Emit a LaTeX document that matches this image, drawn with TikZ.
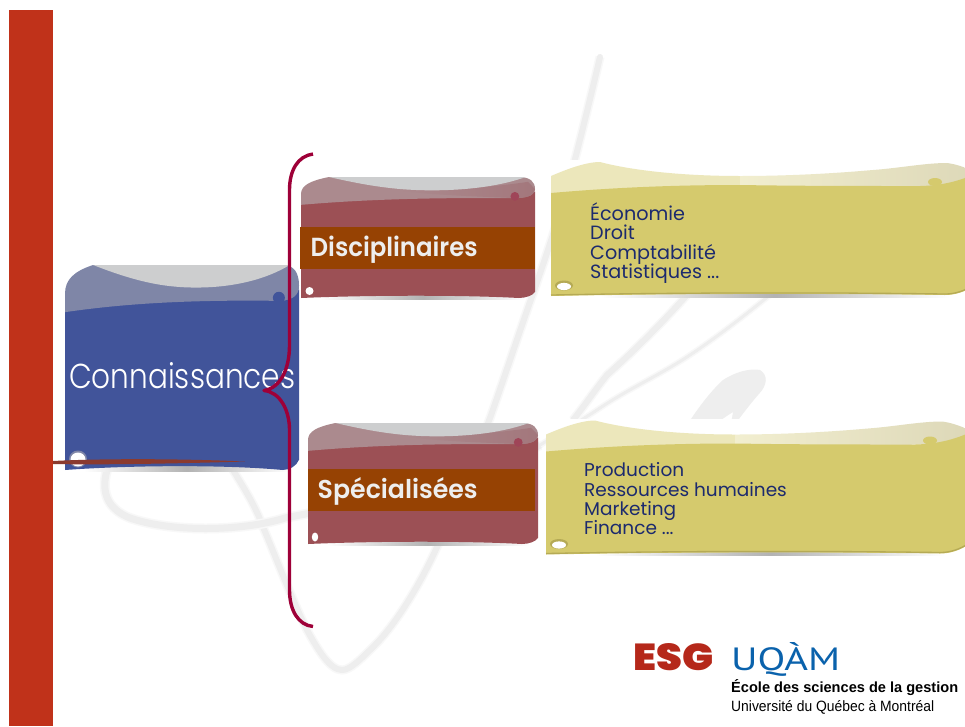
\documentclass[tikz,border=0pt]{standalone}
\usepackage{graphicx}
\usepackage{fontspec}
\setmainfont{Poppins}
\newfontfamily\logofont{Liberation Sans}
\newfontfamily\uqamfont{PT Sans}
\newfontfamily\esgfont{Poppins Black}
\newfontfamily\semifont{Poppins SemiBold}
\newfontfamily\lightfont{Poppins Light}
\AtBeginDocument{\lineskiplimit=-30pt\relax\normallineskiplimit=-30pt\relax}
\definecolor{sidebar}{HTML}{C0321A}
\definecolor{wm}{HTML}{EEEEEE}
\definecolor{wmsoft}{HTML}{F8F8F8}
\definecolor{bluebody}{HTML}{41549A}
\definecolor{blueband}{HTML}{7F86A7}
\definecolor{lensgrey}{HTML}{CDCECF}
\definecolor{marbody}{HTML}{9C5055}
\definecolor{marband}{HTML}{AB8A8E}
\definecolor{marsmear}{HTML}{A3777C}
\definecolor{mardot}{HTML}{9F4558}
\definecolor{barorange}{HTML}{964203}
\definecolor{yelbody}{HTML}{D5CA6D}
\definecolor{yelband}{HTML}{ECE7BB}
\definecolor{yelsmear}{HTML}{DDD8B8}
\definecolor{yeledge}{HTML}{B5AA55}
\definecolor{navytext}{HTML}{1C2A6E}
\definecolor{bracecol}{HTML}{9E0038}
\definecolor{slash}{HTML}{8B3A2E}
\definecolor{esgred}{HTML}{B5281A}
\definecolor{uqamblue}{HTML}{0A62AC}
\definecolor{offwhite}{HTML}{EEEEEE}
\tikzset{
  wmstroke/.style={draw=wm,line cap=round,line join=round,line width=#1,preaction={draw=wmsoft,line width=#1+3pt}},
  barlabel/.style={anchor=base west,inner sep=0pt,text=offwhite,font=\semifont},
  notetext/.style={anchor=north west,inner sep=0pt,text=navytext,align=left},
  logotext/.style={anchor=base west,inner sep=0pt,text=black,font=\logofont},
  shadowbar/.style={left color=white,right color=white,middle color=gray!60},
}
% card: x y w h body band smear dot
\newcommand{\cardshape}[8]{%
  \shade[shadowbar] (#1+#3*.08,#2+#4-4) rectangle (#1+#3*.96,#2+#4+1.5);
  \begin{scope}[shift={(#1,#2)},xscale=#3/100,yscale=#4/100]
    \fill[#5] (0,20) -- (0,100) .. controls (30,97.5) and (70,97.5) .. (93,100) .. controls (96,100) and (99,98) .. (100,95) -- (100,12) -- cycle;
    \fill[#6] (0,23) -- (0,14) .. controls (0,7) and (4,3) .. (12,0) -- (93,0) .. controls (98,0) and (100,4) .. (100,10) .. controls (100,14) and (98,17) .. (92,17.5) .. controls (60,17) and (30,18) .. cycle;
    \shade[left color=#6,right color=#7] (42,11) .. controls (60,11) and (80,9) .. (97,4) -- (100,10) .. controls (100,14) and (98,17) .. (92,17.5) .. controls (75,16) and (55,15) .. (42,11) -- cycle;
    \fill[lensgrey] (12,0) .. controls (30,8) and (42,11) .. (56,11) .. controls (72,11) and (86,7) .. (96,0) -- cycle;
    \coordinate (cdot) at (91.4,16);
    \coordinate (chole) at (5.4,94);
  \end{scope}
  \fill[#8] (cdot) circle (4.4);
}
% note: x y shift
\newcommand{\noteshape}[2]{%
  \begin{scope}[shift={(#1,#2)}]
    \fill[white] (551,160) rectangle (975,200);
    \shade[shadowbar] (600,290) rectangle (950,297);
    \fill[yelband] (551,194) -- (551,176) .. controls (565,170) and (585,162) .. (600,162) .. controls (630,170) and (680,176) .. (740,176) -- (740,190) -- cycle;
    \shade[left color=yelband!70!white,right color=yelsmear] (740,176) .. controls (800,176) and (850,172) .. (873,170) .. controls (900,168) and (925,163) .. (947,163) .. controls (955,164) and (965,167) .. (975,172) -- (975,185) -- (740,190) -- cycle;
    \fill[yelbody] (551,193) .. controls (620,187) and (680,185) .. (740,185) .. controls (800,186) and (860,186) .. (907,186) .. controls (930,186.5) and (950,185) .. (975,174) -- (975,285) .. controls (965,292) and (955,295) .. (945,295) .. controls (800,293) and (650,294) .. (551,296) -- cycle;
    \draw[yeledge,line width=1.3pt] (551,295) .. controls (650,293) and (800,292) .. (945,294) .. controls (955,294) and (965,291) .. (975,284);
    \fill[yelbody] (935,182) ellipse (7 and 4);
    \fill[yeledge] (564,285.5) ellipse (9 and 5);
    \fill[white] (564,286.5) ellipse (7 and 3.6);
  \end{scope}
}
\begin{document}
\begin{tikzpicture}[x=1pt,y=-1pt]
\clip (0,0) rectangle (965,726);
\fill[white] (0,0) rectangle (965,726);
% watermark
\draw[wmstroke=6pt] (600,57) .. controls (590,100) and (580,140) .. (573,167) .. controls (560,215) and (545,260) .. (530,302) .. controls (515,345) and (500,390) .. (490,418) .. controls (470,470) and (455,510) .. (437,547) .. controls (420,585) and (395,625) .. (375,645) .. controls (360,660) and (350,670) .. (342,670) .. controls (330,670) and (318,650) .. (307,630) .. controls (290,595) and (275,555) .. (263,527) .. controls (255,505) and (245,490) .. (233,470);
\draw[wmstroke=7pt] (107,470) .. controls (100,495) and (110,510) .. (130,518) .. controls (170,532) and (240,532) .. (285,518) .. controls (350,505) and (450,490) .. (540,445);
\draw[wmstroke=3pt] (540,445) .. controls (565,430) and (585,418) .. (600,408) .. controls (630,388) and (660,375) .. (690,355) .. controls (720,335) and (745,315) .. (770,295);
\draw[wmstroke=6pt] (687,295) .. controls (660,325) and (635,350) .. (607,375) .. controls (595,390) and (585,405) .. (573,420);
\fill[wm] (687,425) .. controls (700,405) and (712,390) .. (723,380) .. controls (735,372) and (750,368) .. (760,370) .. controls (768,375) and (768,385) .. (758,395) .. controls (745,410) and (735,425) .. (730,430) -- (733,412) .. controls (720,420) and (708,430) .. (700,435) -- cycle;
% sidebar
\fill[sidebar] (9,10) rectangle (53,726);
% blue card
\cardshape{65}{265}{234}{205}{bluebody}{blueband}{blueband}{bluebody}
\fill[bluebody] (cdot) circle (6);
\fill[blueband] (78,459) ellipse (9 and 8.5);
\fill[white] (78,459.5) ellipse (7.5 and 7);
\fill[slash] (53,461) .. controls (100,458.5) and (180,458.5) .. (245,461.5) .. controls (180,463.5) and (100,465) .. (53,464) -- cycle;
\node[anchor=base west,inner sep=0pt,text=white] (conn) at (69,388) {\resizebox{226pt}{26pt}{\lightfont Connaissances}};
% maroon cards
\cardshape{301}{177}{234}{121}{marbody}{marband}{marsmear}{mardot}
\fill[white] (309.5,291) circle (4);
\fill[barorange] (300,227) rectangle (535,269);
\node[barlabel] (disc) at (310.5,256.7) {\resizebox{167pt}{20.5pt}{Disciplinaires}};
\cardshape{308}{423}{230}{121}{marbody}{marband}{marsmear}{mardot}
\fill[white] (315,537) ellipse (3.2 and 4.5);
\fill[barorange] (308,469) rectangle (535,510.7);
\node[barlabel] (spec) at (317.5,498) {\resizebox{160pt}{21pt}{Spécialisées}};
% yellow notes
\noteshape{0}{0}
\noteshape{-5}{258.5}
\node[notetext,font=\fontsize{19.2}{19.3}\selectfont] (n1) at (590,202.5) {Économie\\Droit\\Comptabilité\\Statistiques ...};
\node[notetext,font=\fontsize{18.5}{19.3}\selectfont] (n2) at (584,462.5) {Production\\Ressources humaines\\Marketing\\Finance ...};
% brace
\draw[bracecol,line width=3.4pt,line join=round] (313,154) .. controls (298,156) and (289.5,170) .. (289.5,190) -- (289.5,345) .. controls (289.5,370) and (280,388) .. (264,390.5) .. controls (280,392) and (289.5,410) .. (289.5,430) -- (289.5,590) .. controls (289.5,610) and (298,625) .. (313,626.5);
% logo
\node[anchor=base west,inner sep=0pt,text=esgred] (esg) at (633,670) {\resizebox{80pt}{27pt}{\esgfont ESG}};
\node[anchor=base west,inner sep=0pt,text=uqamblue] (uqam) at (731,670) {\resizebox{109pt}{28pt}{\uqamfont UQÀM}};
\node[logotext] (ecole) at (731,692.7) {\resizebox{227pt}{13pt}{\bfseries École des sciences de la gestion}};
\node[logotext] (univ) at (731,711.7) {\resizebox{203pt}{11pt}{Université du Québec à Montréal}};
\end{tikzpicture}
\end{document}
